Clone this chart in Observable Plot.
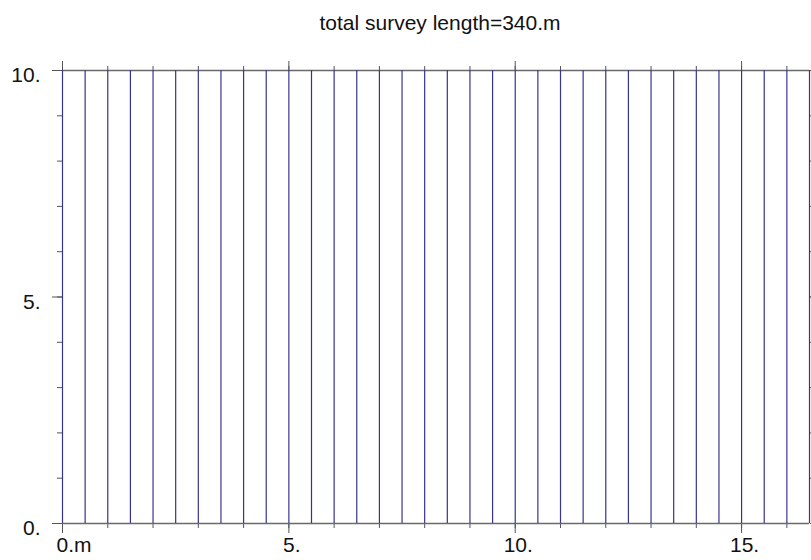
<!DOCTYPE html>
<html>
<head>
<meta charset="utf-8">
<script src="https://cdn.jsdelivr.net/npm/d3@7"></script>
<script src="https://cdn.jsdelivr.net/npm/@observablehq/plot@0.6"></script>
<style>
  html, body { margin: 0; padding: 0; background: #fff; }
  #chart svg { display: block; }
</style>
</head>
<body>
<div id="chart"></div>
<script>
// Survey line positions along the baseline (m), each line run from start to end (m)
const lineX = [0, 0.5, 1, 1.5, 2, 2.5, 3, 3.5, 4, 4.5, 5, 5.5, 6, 6.5, 7, 7.5, 8, 8.5,
               9, 9.5, 10, 10.5, 11, 11.5, 12, 12.5, 13, 13.5, 14, 14.5, 15, 15.5, 16, 16.5];
const lineStart = [0, 0, 0, 0, 0, 0, 0, 0, 0, 0, 0, 0, 0, 0, 0, 0, 0, 0,
                   0, 0, 0, 0, 0, 0, 0, 0, 0, 0, 0, 0, 0, 0, 0, 0];
const lineEnd = [10, 10, 10, 10, 10, 10, 10, 10, 10, 10, 10, 10, 10, 10, 10, 10, 10, 10,
                 10, 10, 10, 10, 10, 10, 10, 10, 10, 10, 10, 10, 10, 10, 10, 10];

// Axis ticks and their labels
const xMajor = [0, 5, 10, 15];
const xMinor = [0, 1, 2, 3, 4, 5, 6, 7, 8, 9, 10, 11, 12, 13, 14, 15, 16];
const xLabels = ["0.m", "5.", "10.", "15."];
const yMajor = [0, 5, 10];
const yMinor = [0, 1, 2, 3, 4, 5, 6, 7, 8, 9, 10];
const yLabels = ["0.", "5.", "10."];

const lines = lineX.map((x, i) => ({x, y1: lineStart[i], y2: lineEnd[i]}));
const totalLength = d3.sum(lines, d => d.y2 - d.y1);
const title = `total survey length=${totalLength}.m`;

const FONT = "'Liberation Sans', Arial, Helvetica, sans-serif";
const AXIS = "#6a6a6a";
const TICK = "#555";
const LINE = "#35358f";

const blank = () => "";
const xTickLabels = xMajor.map((v, i) => ({v, t: xLabels[i]}));
const yTickLabels = yMajor.map((v, i) => ({v, t: yLabels[i]}));

const chart = Plot.plot({
  width: 811,
  height: 560,
  marginLeft: 62,
  marginRight: 2,
  marginTop: 70,
  marginBottom: 37,
  style: {fontFamily: FONT, background: "#fff"},
  x: {domain: [0, 16.5], axis: null},
  y: {domain: [0, 10], axis: null},
  marks: [
    // tick marks on all four sides
    Plot.axisX({anchor: "bottom", ticks: xMinor, tickSize: 5, tickFormat: blank, stroke: TICK, label: null}),
    Plot.axisX({anchor: "bottom", ticks: xMajor, tickSize: 10, tickFormat: blank, stroke: TICK, label: null}),
    Plot.axisX({anchor: "top", ticks: xMinor, tickSize: 5, tickFormat: blank, stroke: TICK, label: null}),
    Plot.axisX({anchor: "top", ticks: xMajor, tickSize: 10, tickFormat: blank, stroke: TICK, label: null}),
    Plot.axisY({anchor: "left", ticks: yMinor, tickSize: 5, tickFormat: blank, stroke: TICK, label: null}),
    Plot.axisY({anchor: "left", ticks: yMajor, tickSize: 10, tickFormat: blank, stroke: TICK, label: null}),
    Plot.axisY({anchor: "right", ticks: yMinor, tickSize: 5, tickFormat: blank, stroke: TICK, label: null}),
    Plot.axisY({anchor: "right", ticks: yMajor, tickSize: 10, tickFormat: blank, stroke: TICK, label: null}),

    // horizontal frame lines at the bottom and top of the survey area
    Plot.ruleY([0, 10], {stroke: AXIS, strokeWidth: 1.6}),

    // survey lines
    Plot.ruleX(lines, {x: "x", y1: "y1", y2: "y2", stroke: LINE, strokeWidth: 1.2}),

    // tick labels
    Plot.text(xTickLabels.filter(d => d.v === 0), {
      x: "v", text: "t", frameAnchor: "bottom", lineAnchor: "top",
      textAnchor: "start", dx: -6, dy: 14, fontSize: 21, fill: "#111"
    }),
    Plot.text(xTickLabels.filter(d => d.v !== 0), {
      x: "v", text: "t", frameAnchor: "bottom", lineAnchor: "top",
      textAnchor: "middle", dx: 3, dy: 14, fontSize: 21, fill: "#111"
    }),
    Plot.text(yTickLabels, {
      y: "v", text: "t", frameAnchor: "left", textAnchor: "end",
      dx: -22, dy: 5, fontSize: 21, fill: "#111"
    }),

    // title
    Plot.text([title], {
      frameAnchor: "top", text: d => d, dx: 4, dy: -55,
      fontSize: 21, fill: "#111"
    })
  ]
});

document.getElementById("chart").appendChild(chart);
</script>
</body>
</html>
